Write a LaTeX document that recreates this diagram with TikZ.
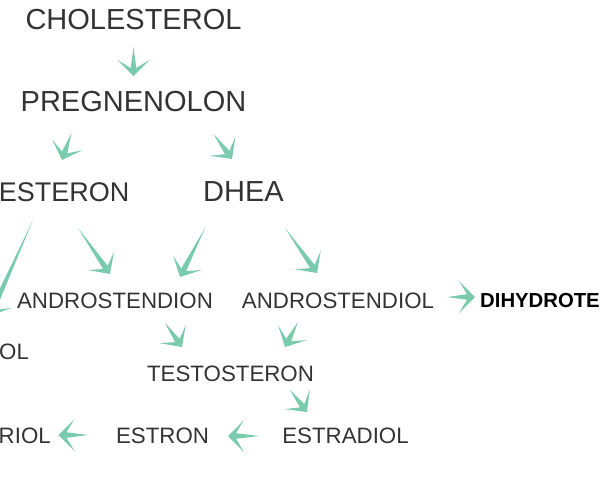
\documentclass[tikz,border=0pt]{standalone}
\usepackage{fontspec}
\setmainfont{Liberation Sans}
\usetikzlibrary{calc}

\definecolor{mint}{HTML}{7ACBAE}
\definecolor{ink}{HTML}{333333}

\tikzset{
  big/.style={font=\fontsize{29}{29}\selectfont, text=ink, inner sep=0pt},
  small/.style={font=\fontsize{22.3}{22.3}\selectfont, text=ink, inner sep=0pt},
  conv/.style={fill=mint, to path={
    let \p1=(\tikztostart), \p2=(\tikztotarget), \n1={atan2(\y2-\y1,\x2-\x1)} in
    (\p1) -- ($(\p2)+(\n1+180:8pt)+(\n1+90:2.8pt)$)
    -- ($(\p2)+(\n1+180:16pt)+(\n1+90:16pt)$)
    -- (\p2)
    -- ($(\p2)+(\n1+180:16pt)+(\n1-90:16pt)$)
    -- ($(\p2)+(\n1+180:8pt)+(\n1-90:2.8pt)$)
    -- cycle}}
}

\begin{document}
\begin{tikzpicture}[x=1pt, y=-1pt]

	\useasboundingbox (0,0) rectangle (600,480);
	\clip (0,0) rectangle (600,480);

	% top rows
	\node [big] (chol) at (133.5,20) {CHOLESTEROL};
	\node [big] (preg) at (133.5,102) {PREGNENOLON};
	\node [big, anchor=east, font=\fontsize{27}{27}\selectfont] (prog) at (129.5,192) {ESTERON};
	\node [big] (dhea) at (243.5,192) {DHEA};

	% middle rows
	\node [small, anchor=west] (kort) at (-1,352) {OL};
	\node [small] (adion) at (115,300.5) {ANDROSTENDION};
	\node [small] (adiol) at (338,300.5) {ANDROSTENDIOL};
	\node [small, anchor=west, text=black, font=\fontsize{20.3}{20.3}\selectfont\bfseries] (dht) at (480,300.5) {DIHYDROTE};
	\node [small] (testo) at (230.5,373.5) {TESTOSTERON};

	% bottom row
	\node [small, anchor=west] (estriol) at (-1.5,436) {RIOL};
	\node [small] (estron) at (162.5,436) {ESTRON};
	\node [small] (estradiol) at (345.5,436) {ESTRADIOL};

	\begin{scope}[conv]
	
		\fill ([shift={(0,27)}]chol.center) to ([shift={(0,-26)}]preg.center);
		\fill ([shift={(-62,31)}]preg.center) to ([shift={(-67.5,-32)}]prog.east);
		\fill ([shift={(80,32)}]preg.center) to ([shift={(-11.5,-33)}]dhea.center);
		\fill ([shift={(-96.5,28)}]prog.east) to ([shift={(-9,-36)}]kort.west);
		\fill ([shift={(-51.5,36)}]prog.east) to ([shift={(-5,-26.5)}]adion.center);
		\fill ([shift={(-38.5,36)}]dhea.center) to ([shift={(65,-23.5)}]adion.center);
		\fill ([shift={(41.5,36)}]dhea.center) to ([shift={(-21,-27.5)}]adiol.center);
		\fill ([shift={(50,22.5)}]adion.center) to ([shift={(-48.5,-26.5)}]testo.center);
		\fill ([shift={(-40,21.5)}]adiol.center) to ([shift={(54.5,-26.5)}]testo.center);
		\fill ([shift={(59.5,16.5)}]testo.center) to ([shift={(-38.5,-24)}]estradiol.center);
		\fill ([shift={(-86,0)}]estradiol.center) to ([shift={(65.5,0)}]estron.center);
		\fill ([shift={(-74.5,-1)}]estron.center) to ([shift={(60,-1)}]estriol.west);
		\fill ([shift={(109,-3.5)}]adiol.center) to ([shift={(-5,-3.5)}]dht.west);
	
	\end{scope}

\end{tikzpicture}
\end{document}
